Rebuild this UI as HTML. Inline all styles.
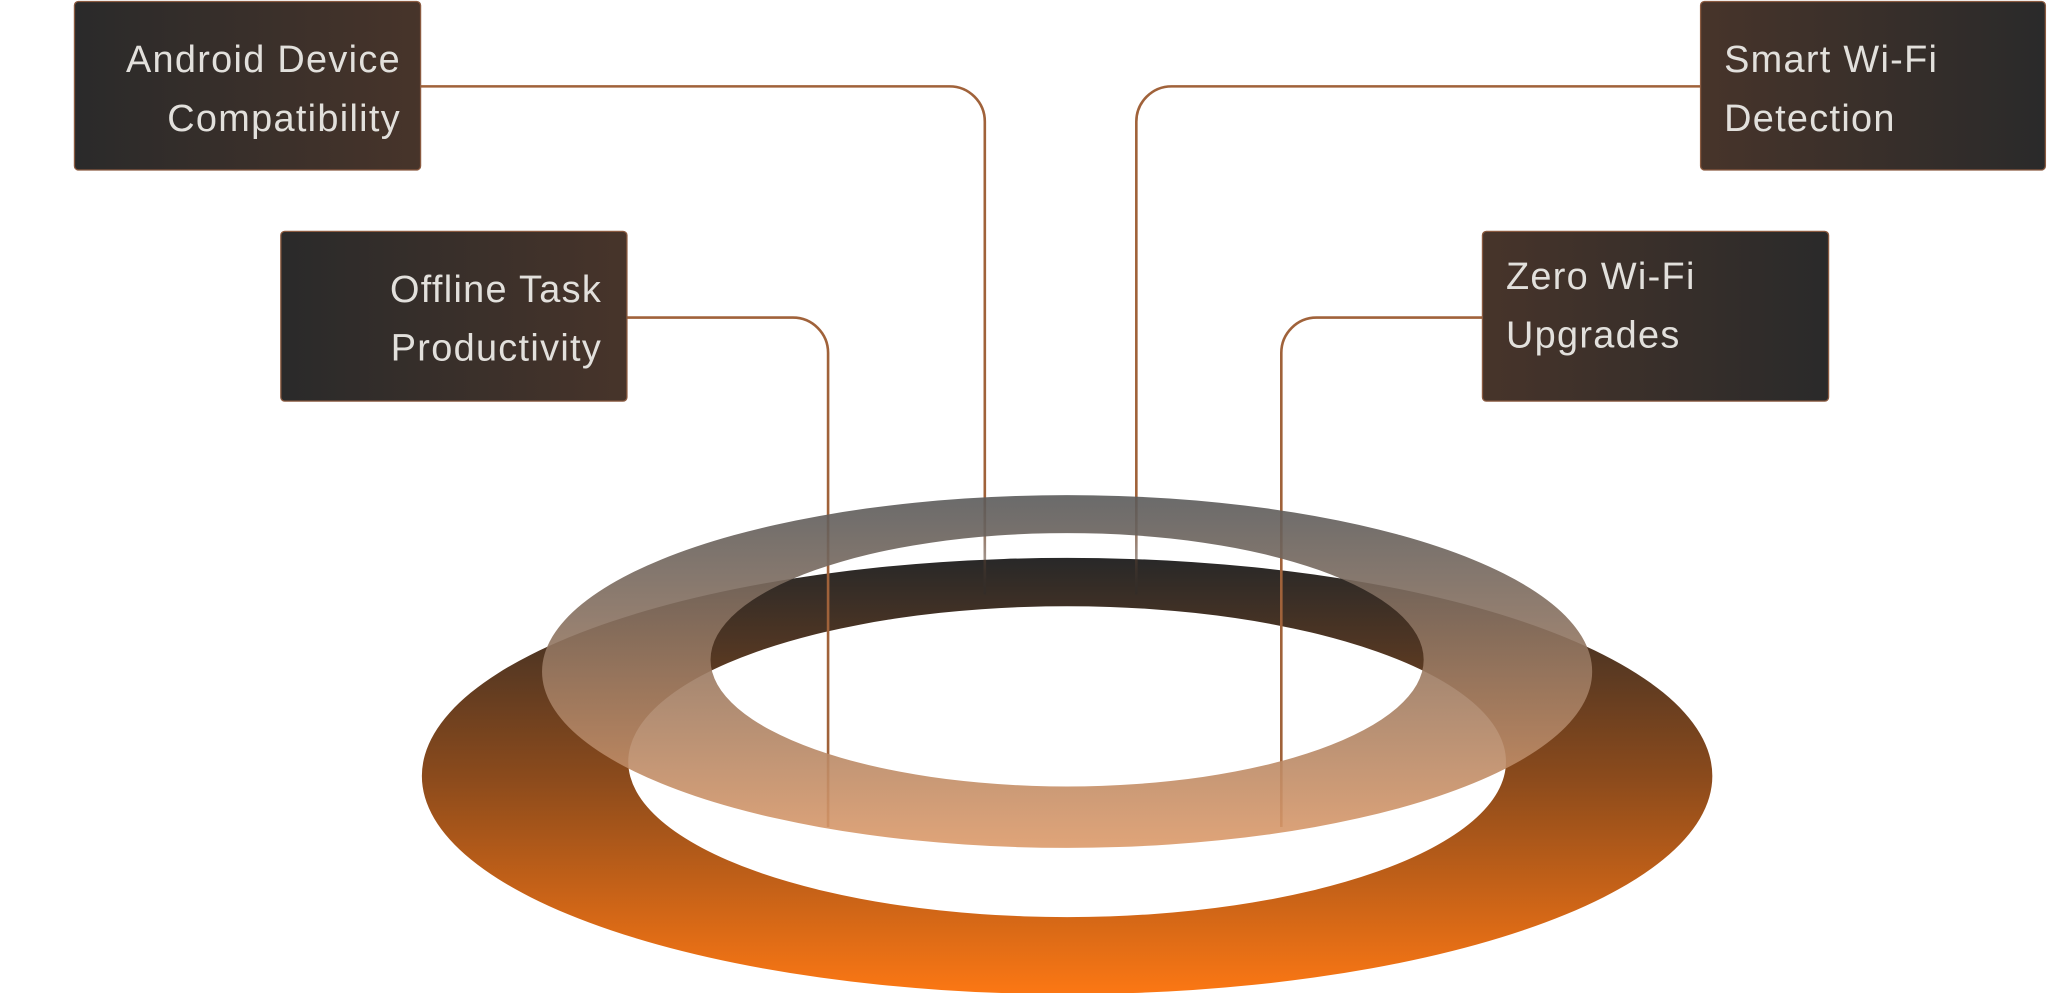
<!DOCTYPE html>
<html><head><meta charset="utf-8"><style>
html,body{margin:0;padding:0;background:#fff;width:2048px;height:993px;overflow:hidden}
svg{display:block}
</style></head><body>
<svg width="2048" height="993" viewBox="0 0 1568 760" xmlns="http://www.w3.org/2000/svg">
<defs>
<linearGradient id="big" x1="0" y1="427" x2="0" y2="760" gradientUnits="userSpaceOnUse">
<stop offset="0" stop-color="#282828"/><stop offset="0.5" stop-color="#8a4a1c"/><stop offset="1" stop-color="#fb7714"/>
</linearGradient>
<linearGradient id="up" x1="0" y1="379" x2="0" y2="649" gradientUnits="userSpaceOnUse">
<stop offset="0" stop-color="#5a5a5a"/><stop offset="1" stop-color="#dc9a6a"/>
</linearGradient>
<linearGradient id="bl" x1="0" x2="1"><stop offset="0" stop-color="#2a2a2a"/><stop offset="1" stop-color="#47342a"/></linearGradient>
<linearGradient id="br" x1="1" x2="0"><stop offset="0" stop-color="#2a2a2a"/><stop offset="1" stop-color="#47342a"/></linearGradient>
<linearGradient id="fade" x1="0" y1="93" x2="0" y2="455" gradientUnits="userSpaceOnUse">
<stop offset="0" stop-color="#a0623a"/><stop offset="0.8" stop-color="#a0623a"/><stop offset="1" stop-color="#2a2a2a" stop-opacity="0.3"/>
</linearGradient>
</defs>
<path fill="url(#big)" fill-rule="evenodd" d="M323,594 a494,167 0 1,0 988,0 a494,167 0 1,0 -988,0 Z M481,583 a336,119 0 1,0 672,0 a336,119 0 1,0 -672,0 Z"/>
<g fill="none" stroke-width="2">
<path d="M322,66 H727 A27,27 0 0 1 754,93 V455" stroke="url(#fade)"/>
<path d="M1302,66 H897 A27,27 0 0 0 870,93 V455" stroke="url(#fade)"/>
<path d="M480,243 H607 A27,27 0 0 1 634,270 V633" stroke="#a0623a"/>
<path d="M1135,243 H1008 A27,27 0 0 0 981,270 V633" stroke="#a0623a"/>
</g>
<path fill="url(#up)" opacity="0.9" fill-rule="evenodd" d="M415,514 a402,135 0 1,0 804,0 a402,135 0 1,0 -804,0 Z M544,505 a273,97 0 1,0 546,0 a273,97 0 1,0 -546,0 Z"/>
<g stroke="#8a5a40" stroke-width="1">
<rect x="57" y="1" width="265" height="129" rx="3" fill="url(#bl)"/>
<rect x="215" y="177" width="265" height="130" rx="3" fill="url(#bl)"/>
<rect x="1302" y="1" width="264" height="129" rx="3" fill="url(#br)"/>
<rect x="1135" y="177" width="265" height="130" rx="3" fill="url(#br)"/>
</g>
<g font-family="Liberation Sans, sans-serif" font-size="29" letter-spacing="1" fill="#e2e0dc">
<text x="307" y="55" text-anchor="end">Android Device</text>
<text x="307" y="100" text-anchor="end">Compatibility</text>
<text x="461" y="231" text-anchor="end">Offline Task</text>
<text x="461" y="276" text-anchor="end">Productivity</text>
<text x="1320" y="55">Smart Wi-Fi</text>
<text x="1320" y="100">Detection</text>
<text x="1153" y="221">Zero Wi-Fi</text>
<text x="1153" y="266">Upgrades</text>
</g>
</svg>
</body></html>
